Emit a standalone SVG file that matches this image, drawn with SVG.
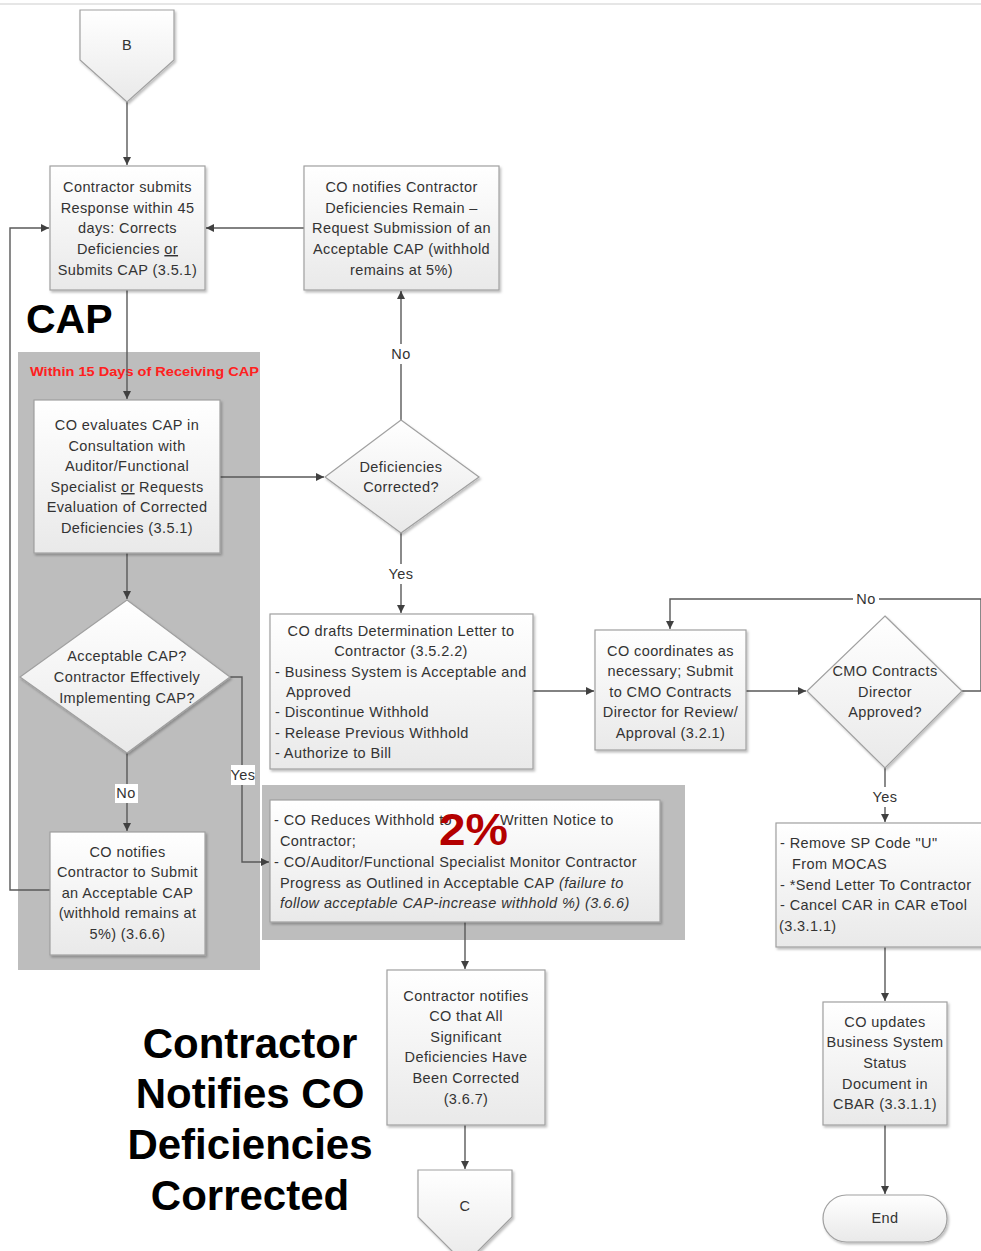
<svg xmlns="http://www.w3.org/2000/svg" width="981" height="1251" viewBox="0 0 981 1251">
<defs>
<linearGradient id="g" x1="0" y1="0" x2="0" y2="1"><stop offset="0" stop-color="#ffffff"/><stop offset="1" stop-color="#e9e9e9"/></linearGradient>
<filter id="sh" x="-10%" y="-10%" width="125%" height="125%"><feDropShadow dx="1.5" dy="2" stdDeviation="1.2" flood-color="#000" flood-opacity="0.25"/></filter>
<marker id="ah" markerWidth="10" markerHeight="10" refX="9" refY="5" orient="auto" markerUnits="userSpaceOnUse"><path d="M1,1 L9,5 L1,9 Z" fill="#404040"/></marker>
</defs>
<style>
.box{fill:url(#g);stroke:#a0a0a0;stroke-width:1.2;filter:url(#sh)}
.panel{fill:#bdbdbd}
.t{font-family:"Liberation Sans",Arial,sans-serif;font-size:14.5px;fill:#333;letter-spacing:0.4px}
.c{text-anchor:middle}
.ln{fill:none;stroke:#595959;stroke-width:1.4}
.a{marker-end:url(#ah)}
.big{font-family:"Liberation Sans",Arial,sans-serif;font-weight:bold;fill:#000}
.lbl{fill:#fff}
</style>
<rect width="981" height="1251" fill="#fff"/>
<line x1="0" y1="4" x2="981" y2="4" stroke="#e6e6e6" stroke-width="2"/>

<g id="panel-cap"><rect class="panel" x="18" y="352" width="242" height="618"/>
<text x="30" y="376" font-family="Liberation Sans,Arial,sans-serif" font-weight="bold" font-size="13.5" fill="#ff2020" textLength="229" lengthAdjust="spacingAndGlyphs">Within 15 Days of Receiving CAP</text></g>
<g id="panel-reduce"><rect class="panel" x="262" y="785" width="423" height="155"/></g>

<g id="connectors">
<path class="ln a" d="M127,102 L127,165"/>
<path class="ln a" d="M304,228 L206,228"/>
<path class="ln a" d="M50,890 L10,890 L10,228 L49,228"/>
<path class="ln a" d="M127,290 L127,399"/>
<path class="ln a" d="M220,477 L324,477"/>
<path class="ln a" d="M401,420 L401,291"/>
<path class="ln a" d="M401,533 L401,613"/>
<path class="ln a" d="M127,553 L127,599"/>
<path class="ln a" d="M127,753 L127,831"/>
<path class="ln a" d="M230,677 L242,677 L242,862 L269,862"/>
<path class="ln a" d="M465,922 L465,969"/>
<path class="ln a" d="M465,1125 L465,1169"/>
<path class="ln a" d="M533,691 L594,691"/>
<path class="ln a" d="M746,691 L806,691"/>
<path class="ln a" d="M962,691 L981,691 L981,599 L670,599 L670,629"/>
<path class="ln a" d="M885,768 L885,822"/>
<path class="ln a" d="M885,947 L885,1001"/>
<path class="ln a" d="M885,1125 L885,1194"/>
<rect class="lbl" x="388" y="344" width="26" height="20"/>
<text class="t c" x="401" y="359">No</text>
<rect class="lbl" x="386" y="564" width="30" height="20"/>
<text class="t c" x="401" y="579">Yes</text>
<rect class="lbl" x="115" y="784" width="23" height="19"/>
<text class="t c" x="126" y="798">No</text>
<rect class="lbl" x="231" y="765" width="24" height="20"/>
<text class="t c" x="243" y="780">Yes</text>
<rect class="lbl" x="853" y="590" width="26" height="18"/>
<text class="t c" x="866" y="604">No</text>
<rect class="lbl" x="870" y="787" width="30" height="20"/>
<text class="t c" x="885" y="802">Yes</text>
</g>

<g id="B"><path class="box" d="M80,10 L174,10 L174,60 L127,102 L80,60 Z"/><text class="t c" x="127" y="50" font-size="12">B</text></g>

<g id="contractor-submits"><rect class="box" x="50" y="166" width="155" height="124"/>
<text class="t c"><tspan x="127.5" y="192">Contractor submits</tspan><tspan x="127.5" y="212.5">Response within 45</tspan><tspan x="127.5" y="233">days: Corrects</tspan><tspan x="127.5" y="254">Deficiencies <tspan text-decoration="underline">or</tspan></tspan><tspan x="127.5" y="274.5">Submits CAP (3.5.1)</tspan></text></g>

<g id="co-notifies-remain"><rect class="box" x="304" y="166" width="195" height="124"/>
<text class="t c"><tspan x="401.5" y="192">CO notifies Contractor</tspan><tspan x="401.5" y="212.5">Deficiencies Remain –</tspan><tspan x="401.5" y="233">Request Submission of an</tspan><tspan x="401.5" y="254">Acceptable CAP (withhold</tspan><tspan x="401.5" y="274.5">remains at 5%)</tspan></text></g>

<g id="cap-label"><text class="big" x="26" y="333" font-size="41">CAP</text></g>

<g id="co-evaluates"><rect class="box" x="34" y="400" width="186" height="153"/>
<text class="t c"><tspan x="127" y="430">CO evaluates CAP in</tspan><tspan x="127" y="451">Consultation with</tspan><tspan x="127" y="471">Auditor/Functional</tspan><tspan x="127" y="492">Specialist <tspan text-decoration="underline">or</tspan> Requests</tspan><tspan x="127" y="512">Evaluation of Corrected</tspan><tspan x="127" y="533">Deficiencies (3.5.1)</tspan></text></g>

<g id="deficiencies-corrected"><path class="box" d="M401,420 L479,477 L401,533 L325,477 Z"/>
<text class="t c"><tspan x="401" y="472">Deficiencies</tspan><tspan x="401" y="492">Corrected?</tspan></text></g>

<g id="acceptable-cap"><path class="box" d="M127,600 L230,677 L127,753 L20,677 Z"/>
<text class="t c"><tspan x="127" y="661">Acceptable CAP?</tspan><tspan x="127" y="682">Contractor Effectively</tspan><tspan x="127" y="703">Implementing CAP?</tspan></text></g>

<g id="co-notifies-submit"><rect class="box" x="50" y="832" width="155" height="123"/>
<text class="t c"><tspan x="127.5" y="857">CO notifies</tspan><tspan x="127.5" y="877">Contractor to Submit</tspan><tspan x="127.5" y="898">an Acceptable CAP</tspan><tspan x="127.5" y="918">(withhold remains at</tspan><tspan x="127.5" y="939">5%) (3.6.6)</tspan></text></g>

<g id="co-drafts"><rect class="box" x="270" y="614" width="263" height="155"/>
<text class="t"><tspan class="c" x="401" y="636">CO drafts Determination Letter to</tspan><tspan class="c" x="401" y="656">Contractor (3.5.2.2)</tspan><tspan x="275" y="677">-  Business System is Acceptable and</tspan><tspan x="286" y="697">Approved</tspan><tspan x="275" y="717">-  Discontinue Withhold</tspan><tspan x="275" y="738">-  Release Previous Withhold</tspan><tspan x="275" y="758">-  Authorize to Bill</tspan></text></g>

<g id="co-reduces"><rect class="box" x="270" y="800" width="390" height="122"/>
<text class="t"><tspan x="274" y="825">- CO Reduces Withhold to</tspan><tspan x="500" y="825">Written Notice to</tspan><tspan x="280" y="846">Contractor;</tspan><tspan x="274" y="867">- CO/Auditor/Functional Specialist Monitor Contractor</tspan><tspan x="280" y="888">Progress as Outlined in Acceptable CAP <tspan font-style="italic">(failure to</tspan></tspan><tspan x="280" y="908" font-style="italic">follow acceptable CAP-increase withhold %) (3.6.6)</tspan></text>
<text class="big" x="439" y="845" font-size="44" textLength="69" lengthAdjust="spacingAndGlyphs" style="fill:#b40000">2%</text></g>

<g id="contractor-notifies"><rect class="box" x="387" y="970" width="158" height="155"/>
<text class="t c"><tspan x="466" y="1001">Contractor notifies</tspan><tspan x="466" y="1021">CO that All</tspan><tspan x="466" y="1042">Significant</tspan><tspan x="466" y="1062">Deficiencies Have</tspan><tspan x="466" y="1083">Been Corrected</tspan><tspan x="466" y="1104">(3.6.7)</tspan></text></g>

<g id="C"><path class="box" d="M418,1170 L512,1170 L512,1217 L465,1264 L418,1217 Z"/><text class="t c" x="465" y="1211" font-size="12">C</text></g>

<g id="big-label"><text class="big c" font-size="42"><tspan x="250" y="1058">Contractor</tspan><tspan x="250" y="1108">Notifies CO</tspan><tspan x="250" y="1159">Deficiencies</tspan><tspan x="250" y="1210">Corrected</tspan></text></g>

<g id="co-coordinates"><rect class="box" x="595" y="630" width="151" height="120"/>
<text class="t c"><tspan x="670.5" y="656">CO coordinates as</tspan><tspan x="670.5" y="676">necessary; Submit</tspan><tspan x="670.5" y="697">to CMO Contracts</tspan><tspan x="670.5" y="717">Director for Review/</tspan><tspan x="670.5" y="738">Approval (3.2.1)</tspan></text></g>

<g id="cmo-approved"><path class="box" d="M885,616 L962,691 L885,768 L807,691 Z"/>
<text class="t c"><tspan x="885" y="676">CMO Contracts</tspan><tspan x="885" y="697">Director</tspan><tspan x="885" y="717">Approved?</tspan></text></g>

<g id="remove-sp"><rect class="box" x="776" y="823" width="215" height="124"/>
<text class="t"><tspan x="780" y="848">-  Remove SP Code "U"</tspan><tspan x="792" y="869">From MOCAS</tspan><tspan x="780" y="890">-  *Send Letter To Contractor</tspan><tspan x="780" y="910">-  Cancel CAR in CAR eTool</tspan><tspan x="779" y="931">(3.3.1.1)</tspan></text></g>

<g id="co-updates"><rect class="box" x="823" y="1002" width="124" height="123"/>
<text class="t c"><tspan x="885" y="1027">CO updates</tspan><tspan x="885" y="1047">Business System</tspan><tspan x="885" y="1068">Status</tspan><tspan x="885" y="1089">Document in</tspan><tspan x="885" y="1109">CBAR (3.3.1.1)</tspan></text></g>

<g id="end"><rect class="box" x="823" y="1195" width="124" height="47" rx="23.5"/><text class="t c" x="885" y="1223">End</text></g>
</svg>
